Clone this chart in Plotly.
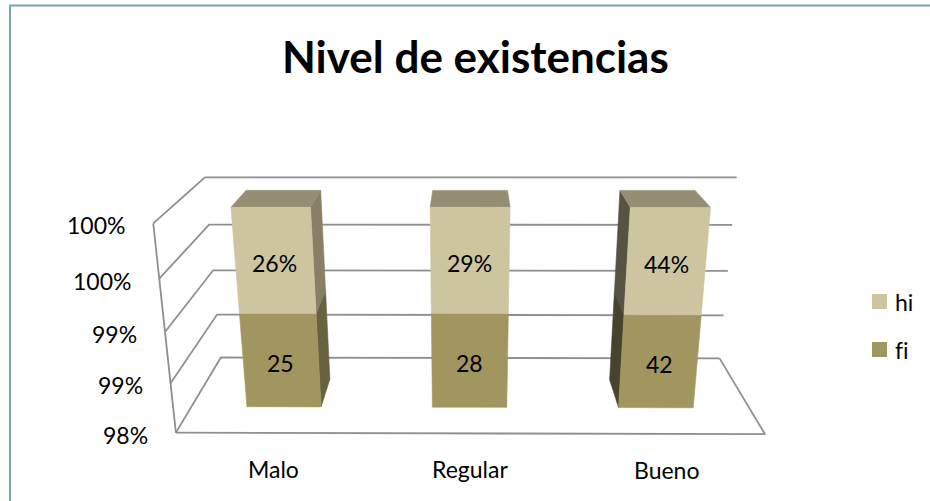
import numpy as np
import plotly.graph_objects as go

# ---------------- data ----------------
categories = ["Malo", "Regular", "Bueno"]
fi = [25, 28, 42]
hi = [0.26, 0.29, 0.44]
fi_text = ["25", "28", "42"]
hi_text = ["26%", "29%", "44%"]
series_names = ["hi", "fi"]
tick_values = [0.98, 0.985, 0.99, 0.995, 1.00]
tick_text = ["98%", "99%", "99%", "100%", "100%"]
axis_min, axis_max = 0.98, 1.00

# ---------------- style ----------------
W, H = 930, 501
FONT = "Lato"
TXT = 23
GRID = "#8f8f8f"
BORDER = "#7ba3ae"
front_col = {"fi": "#a1965f", "hi": "#cdc5a0"}
right_col = {"fi": "#696240", "hi": "#878067"}
left_col = {"fi": "#48432c", "hi": "#565342"}
top_col = "#968e74"
bar_width = 0.40          # share of a category slot
depth0, depth1 = 0.31, 0.68

# Perspective view of the unit plot box (u across, v up, w into the page),
# anchored to page positions and solved as a pinhole camera (DLT).
view_anchors = [
    ((0, 0, 0), (176, 434)), ((1, 0, 0), (765, 435)),
    ((0, 1, 0), (153, 225)), ((0, .25, 0), (171, 382)),
    ((0, .5, 0), (165, 330)), ((0, .75, 0), (159, 278)),
    ((0, 0, 1), (221, 358)), ((1, 0, 1), (719, 358)),
    ((0, 1, 1), (205, 177)), ((1, 1, 1), (737, 178)),
    ((0, .25, 1), (217, 315)), ((1, .25, 1), (724, 315)),
    ((0, .5, 1), (213, 270)), ((1, .5, 1), (728, 270)),
    ((0, .75, 1), (209, 225)), ((1, .75, 1), (732, 225)),
]


def fit_projection(anchors):
    world = np.array([a[0] for a in anchors], float)
    screen = np.array([a[1] for a in anchors], float)
    ms = screen.mean(0)
    ss = np.sqrt(2) / np.linalg.norm(screen - ms, axis=1).mean()
    mw = world.mean(0)
    sw = np.sqrt(3) / np.linalg.norm(world - mw, axis=1).mean()
    T = np.array([[ss, 0, -ss * ms[0]], [0, ss, -ss * ms[1]], [0, 0, 1]])
    U = np.diag([sw, sw, sw, 1.0])
    U[:3, 3] = -sw * mw
    sn = (screen - ms) * ss
    wn = np.c_[(world - mw) * sw, np.ones(len(world))]
    rows = []
    z = np.zeros(4)
    for Xh, (x, y) in zip(wn, sn):
        rows.append(np.r_[Xh, z, -x * Xh])
        rows.append(np.r_[z, Xh, -y * Xh])
    _, _, vt = np.linalg.svd(np.array(rows))
    return np.linalg.inv(T) @ vt[-1].reshape(3, 4) @ U


P = fit_projection(view_anchors)


def proj(pts):
    pts = np.atleast_2d(np.asarray(pts, float))
    h = np.c_[pts, np.ones(len(pts))] @ P.T
    return h[:, 0] / h[:, 2], h[:, 1] / h[:, 2]


def vpos(p):
    return float(np.clip((p - axis_min) / (axis_max - axis_min), 0, 1))


def plain(s):
    # keep "f" + "i" as two glyphs (no typographic ligature)
    return s.replace("fi", "f\u200ci")


fig = go.Figure()


def polyline(pts, color=GRID, width=1.8):
    x, y = proj(pts)
    fig.add_trace(go.Scatter(x=x, y=y, mode="lines", hoverinfo="skip",
                             line=dict(color=color, width=width),
                             showlegend=False))


def face(pts, color):
    x, y = proj(pts)
    fig.add_trace(go.Scatter(x=np.r_[x, x[0]], y=np.r_[y, y[0]], mode="lines",
                             fill="toself", fillcolor=color, hoverinfo="skip",
                             line=dict(color=color, width=0.6),
                             showlegend=False))


# chart area border (top and left edges)
fig.add_trace(go.Scatter(x=[W, 10, 10], y=[5.5, 5.5, H], mode="lines",
                         hoverinfo="skip", showlegend=False,
                         line=dict(color=BORDER, width=2)))

# walls: side-wall and back-wall gridlines
for t in tick_values:
    v = vpos(t)
    polyline([(0, v, 0), (0, v, 1), (1, v, 1)])
# value axis line and floor outline
polyline([(0, 0, 0), (0, 1, 0)])
polyline([(0, 0, 0), (1, 0, 0), (1, 0, 1)])

# stacked 100% bars
n = len(categories)
for i, cat in enumerate(categories):
    total = fi[i] + hi[i]
    shares = {"fi": (0.0, fi[i] / total), "hi": (fi[i] / total, 1.0)}
    c = (i + 0.5) / n
    u0, u1 = c - bar_width / (2 * n), c + bar_width / (2 * n)
    w0, w1 = depth0, depth1
    for s in ["fi", "hi"]:
        va, vb = vpos(shares[s][0]), vpos(shares[s][1])
        xr_f, _ = proj([(u1, va, w0)])
        xr_b, _ = proj([(u1, va, w1)])
        xl_f, _ = proj([(u0, va, w0)])
        xl_b, _ = proj([(u0, va, w1)])
        if xr_b[0] - xr_f[0] > 0.8:
            face([(u1, va, w0), (u1, va, w1), (u1, vb, w1), (u1, vb, w0)], right_col[s])
        if xl_f[0] - xl_b[0] > 0.8:
            face([(u0, va, w0), (u0, va, w1), (u0, vb, w1), (u0, vb, w0)], left_col[s])
    vt = vpos(1.0)
    face([(u0, vt, w0), (u1, vt, w0), (u1, vt, w1), (u0, vt, w1)], top_col)
    for s, txt in [("fi", fi_text[i]), ("hi", hi_text[i])]:
        va, vb = vpos(shares[s][0]), vpos(shares[s][1])
        face([(u0, va, w0), (u1, va, w0), (u1, vb, w0), (u0, vb, w0)], front_col[s])
        lx, ly = proj([(c, (va + vb) / 2, w0)])
        fig.add_annotation(x=lx[0], y=ly[0] + 2, text=txt, showarrow=False,
                           font=dict(family=FONT, size=TXT, color="#000"))
    # category label under the floor front edge
    cx, cy = proj([(c, 0, 0)])
    fig.add_annotation(x=cx[0], y=cy[0] + 36, text=cat, showarrow=False,
                       font=dict(family=FONT, size=TXT, color="#000"))

# value tick labels along the front edge of the side wall
for t, lab in zip(tick_values, tick_text):
    tx, ty = proj([(0, vpos(t), 0)])
    fig.add_annotation(x=tx[0] - 26, y=ty[0] + 2, text=lab, showarrow=False,
                       xanchor="right", yanchor="middle",
                       font=dict(family=FONT, size=TXT, color="#000"))

# legend
leg_x, leg_y0, leg_dy = 879.5, 301.5, 48
for k, s in enumerate(series_names):
    yk = leg_y0 + k * leg_dy
    fig.add_trace(go.Scatter(x=[leg_x], y=[yk], mode="markers", hoverinfo="skip",
                             marker=dict(symbol="square", size=15,
                                         color=front_col[s]),
                             showlegend=False))
    fig.add_annotation(x=leg_x + 13, y=yk, text=plain(s), showarrow=False,
                       xanchor="left", yanchor="middle",
                       font=dict(family=FONT, size=TXT, color="#000"))

# title
fig.add_annotation(x=475, y=56, text="Nivel de existencias", showarrow=False,
                   xanchor="center", yanchor="middle",
                   font=dict(family=FONT, size=44, color="#000", weight="bold"))

fig.update_layout(
    width=W, height=H, margin=dict(l=0, r=0, t=0, b=0),
    paper_bgcolor="white", plot_bgcolor="white", showlegend=False,
    xaxis=dict(range=[0, W], visible=False, fixedrange=True),
    yaxis=dict(range=[H, 0], visible=False, fixedrange=True),
)

fig.write_html("out.html", config={"displayModeBar": False})
